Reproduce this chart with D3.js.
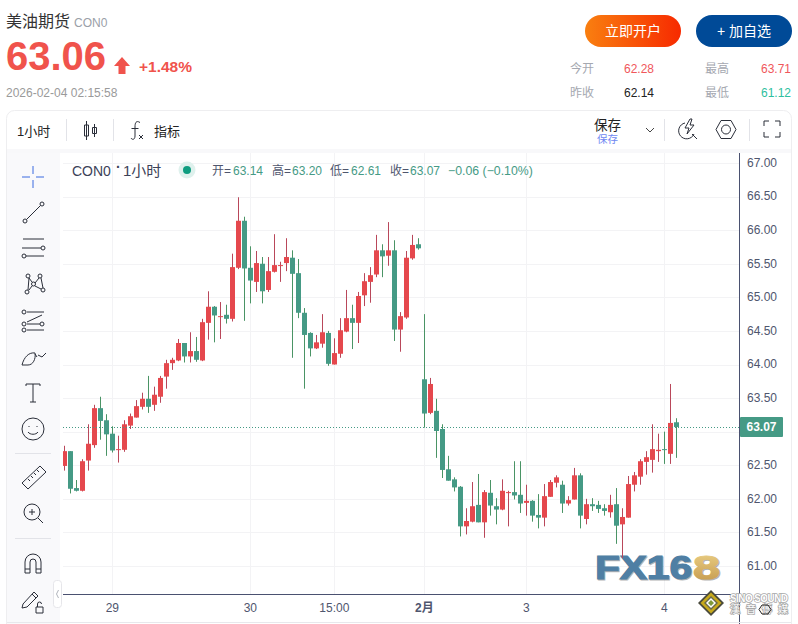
<!DOCTYPE html>
<html lang="zh">
<head>
<meta charset="utf-8">
<title>美油期货 CON0</title>
<script src="https://cdn.jsdelivr.net/npm/d3@7"></script>
<style>
  html, body { margin: 0; padding: 0; background: #fff; overflow: hidden; }
  svg { display: block; }
  text { font-family: "Liberation Sans", "Noto Sans CJK SC", sans-serif; }
</style>
</head>
<body>
<script>
// hourly candles
var opens = [62.49,62.71,62.16,62.12,62.57,62.80,63.35,63.17,62.97,62.73,62.73,63.09,63.21,63.37,63.49,63.40,63.52,63.82,64.02,64.06,64.32,64.12,64.20,64.06,64.62,64.86,64.71,64.74,64.68,65.44,66.14,65.44,65.23,65.50,65.11,65.38,65.47,65.51,65.59,65.36,64.77,64.47,64.24,64.31,64.47,64.00,64.16,64.49,64.69,64.62,65.03,65.23,65.34,65.70,65.62,65.70,64.52,64.70,65.58,65.79,63.78,63.28,63.31,63.04,62.44,62.29,62.18,61.59,61.66,61.91,61.65,62.09,61.89,61.84,62.09,62.10,62.06,61.94,61.97,61.76,61.72,62.03,62.24,62.21,61.93,61.99,62.35,61.70,61.92,61.91,61.86,61.80,61.92,61.62,61.72,62.21,62.33,62.55,62.58,62.71,62.74,62.67,63.14];
var highs = [62.79,62.71,62.28,62.59,63.11,63.40,63.52,63.26,63.08,62.94,63.17,63.27,63.47,63.58,63.83,63.67,63.83,64.07,64.10,64.38,64.32,64.48,64.41,64.68,65.09,64.87,64.93,64.89,65.65,66.49,66.20,65.76,65.69,65.60,65.60,65.94,65.53,65.88,65.70,65.57,64.84,64.48,64.44,64.75,64.50,64.39,64.69,65.11,64.89,65.08,65.36,65.45,65.93,65.79,66.12,65.85,64.78,65.69,65.93,65.88,64.75,63.80,63.49,63.11,62.64,62.32,62.19,61.86,62.25,62.37,62.13,62.28,62.01,62.29,62.12,62.56,62.56,62.21,61.98,62.07,62.22,62.28,62.35,62.27,62.04,62.46,62.38,62.00,62.01,61.97,61.92,62.06,62.16,61.86,62.34,62.40,62.59,62.71,63.11,62.97,63.00,63.71,63.20];
var lows = [62.42,62.08,62.11,62.11,62.42,62.76,62.88,62.64,62.69,62.54,62.70,63.04,63.21,63.33,63.28,63.31,63.43,63.64,63.92,64.05,64.03,64.03,64.04,64.05,64.37,64.33,64.38,64.61,64.64,65.42,64.65,64.91,65.08,64.91,65.08,65.37,65.23,65.39,64.10,64.69,63.64,64.12,64.23,64.25,63.98,64.00,64.10,64.48,64.23,64.32,64.87,64.92,65.30,65.30,65.47,64.35,64.19,64.68,65.56,65.71,63.06,63.26,62.61,62.31,62.27,62.11,61.44,61.47,61.65,61.65,61.42,61.75,61.62,61.83,61.59,61.99,61.79,61.75,61.66,61.56,61.59,62.03,62.17,61.79,61.90,61.99,61.56,61.62,61.82,61.79,61.75,61.72,61.33,61.12,61.72,62.11,62.21,62.36,62.39,62.55,62.52,62.52,62.61];
var closes = [62.71,62.15,62.12,62.56,62.82,63.35,63.16,62.96,62.72,62.74,63.11,63.23,63.38,63.49,63.37,63.55,63.80,64.02,64.07,64.32,64.12,64.20,64.07,64.63,64.86,64.73,64.72,64.68,65.45,66.14,65.43,65.25,65.51,65.09,65.39,65.48,65.48,65.60,65.35,64.77,64.44,64.24,64.33,64.48,64.01,64.17,64.51,64.69,64.62,65.02,65.24,65.33,65.70,65.61,65.70,64.52,64.72,65.59,65.78,65.73,63.27,63.71,63.01,62.43,62.27,62.17,61.59,61.67,61.89,61.65,62.10,61.90,61.84,62.12,62.10,62.05,61.93,61.97,61.75,61.72,62.04,62.25,62.32,61.93,61.98,62.35,61.75,61.92,61.89,61.85,61.82,61.91,61.60,61.73,62.22,62.35,62.56,62.62,62.74,62.73,62.73,63.13,63.07];

var priceTicks = [61,61.5,62,62.5,63,63.5,64,64.5,65,65.5,66,66.5,67];
// 63.00 sits behind the last price tag, so it has no label
var priceLabels = [61,61.5,62,62.5,63.5,64,64.5,65,65.5,66,66.5,67];
var timeTickIndex = [8,31,45,60,77,100];
var timeTickLabels = ["29","30","15:00","2月","3","4"];
var lastPrice = 63.07;

var statLabels = [["今开","最高"],["昨收","最低"]];
var statValues = [["62.28","63.71"],["62.14","61.12"]];
var statColors = [["#f0575b","#f0575b"],["#222","#2fbf9f"]];

var upColor = "#e5484d", upWick = "#b9475a";
var downColor = "#459a85", downWick = "#4a9465";
var axisColor = "#4a5170", axisText = "#4f566e", gridColor = "#f3f3f5", iconColor = "#2a2e39";

var svg = d3.select("body").append("svg")
  .attr("width", 798).attr("height", 624);

var defs = svg.append("defs");
var btnGrad = defs.append("linearGradient").attr("id", "btnGrad");
btnGrad.append("stop").attr("offset", "0%").attr("stop-color", "#f97f10");
btnGrad.append("stop").attr("offset", "100%").attr("stop-color", "#f72a00");
var goldGrad = defs.append("linearGradient").attr("id", "goldGrad")
  .attr("x1", 0).attr("x2", 0).attr("y1", 0).attr("y2", 1);
goldGrad.append("stop").attr("offset", "0%").attr("stop-color", "#eed48a");
goldGrad.append("stop").attr("offset", "100%").attr("stop-color", "#c2964a");

function label(parent, x, y, str, size, color, weight, anchor) {
  return parent.append("text")
    .attr("x", x).attr("y", y)
    .attr("font-size", size)
    .attr("fill", color)
    .attr("font-weight", weight || "normal")
    .attr("text-anchor", anchor || "start")
    .text(str);
}

//header
label(svg, 6, 27, "美油期货", 16, "#333");
label(svg, 74, 27, "CON0", 12, "#9aa0a8");
label(svg, 6, 70, "63.06", 40, "#f0534c", "bold");
svg.append("path").attr("d", "M122,57 L130,66 L125.5,66 L125.5,74 L118.5,74 L118.5,66 L114,66 Z").attr("fill", "#f0534c");
label(svg, 139, 72, "+1.48%", 15.5, "#f0534c", "bold");
label(svg, 6, 97, "2026-02-04 02:15:58", 12, "#9a9a9a");

svg.append("rect").attr("x", 585).attr("y", 15).attr("width", 96).attr("height", 32).attr("rx", 16).attr("fill", "url(#btnGrad)");
label(svg, 633, 36, "立即开户", 14, "#fff", "normal", "middle");
svg.append("rect").attr("x", 696).attr("y", 15).attr("width", 96).attr("height", 32).attr("rx", 16).attr("fill", "#004a97");
label(svg, 744, 36, "+ 加自选", 14, "#fff", "normal", "middle");

statLabels.forEach(function(row, r) {
  var y = 73 + r * 24;
  row.forEach(function(name, c) {
    label(svg, 570 + c * 135, y, name, 12, "#a5a8b0");
    label(svg, 654 + c * 137, y, statValues[r][c], 12, statColors[r][c], "normal", "end");
  });
});

//card, toolbar, side panel
svg.append("rect").attr("x", 6.5).attr("y", 110.5).attr("width", 785).attr("height", 540).attr("rx", 8)
  .attr("fill", "#fff").attr("stroke", "#eeeef0");
svg.append("rect").attr("x", 7).attr("y", 149).attr("width", 784).attr("height", 4).attr("fill", "#f8f8fa");
svg.append("rect").attr("x", 7).attr("y", 153).attr("width", 53).attr("height", 471).attr("fill", "#f9f9fb");

[66, 113, 664, 749].forEach(function(x) {
  svg.append("line").attr("x1", x + 0.5).attr("x2", x + 0.5).attr("y1", 119).attr("y2", 141).attr("stroke", "#e2e3e8");
});
label(svg, 17, 136, "1小时", 13, "#222");
label(svg, 154, 136, "指标", 13, "#222");
label(svg, 594, 130, "保存", 13.5, "#222");
label(svg, 597, 143, "保存", 10.5, "#6f88f2");

function icon(x, y, d, color) {
  return svg.append("path")
    .attr("transform", "translate(" + x + "," + y + ")")
    .attr("d", d)
    .attr("fill", "none")
    .attr("stroke", color || iconColor)
    .attr("stroke-width", 1);
}
function ring(cx, cy, r) {
  r = r || 2;
  return "M" + (cx - r) + "," + cy + "a" + r + "," + r + " 0 1,0 " + (2 * r) + ",0a" + r + "," + r + " 0 1,0 " + (-2 * r) + ",0";
}

icon(84, 120, "M2.5,1V20M0.5,5h4v11h-4ZM10.5,4V17M8.5,7.5h4v6h-4Z");
icon(130, 120, "M10,2.5C6,0 5,3 5,7V16C5,20 2,20 1,18M1.5,8.5H8.5M9,15L13,19M13,15L9,19");
icon(645, 127, "M1,1L5,5L9,1", "#444");
icon(679, 119, "M6,4A8,8 0 1,0 15,15M13,15L18,20M11,0L6,9H10L8,15L15,6H11L13,0Z");
icon(716, 120, "M5,0.5H15L20,9.5L15,18.5H5L0,9.5Z" + ring(10, 9.5, 4.5));
icon(764, 121, "M0,5V0H5M11,0H16V5M16,11V16H11M5,16H0V11");

//drawing tools on the left
icon(22, 166, "M11,0V8M11,14V22M0,11H8M14,11H22", "#3b6be0");
icon(22, 201, ring(3, 20) + ring(20, 3) + "M4.5,18.5L18.5,4.5");
icon(22, 238, ring(21, 10) + ring(2, 18) + "M1,1H22M0,10H19M4,18H22");
icon(24, 274, ring(3, 18) + ring(4, 2) + ring(16, 2) + ring(19, 16) + ring(9.5, 10) + "M4,16L5,4M5,16L8,12M5,4L8,8M11,9L15,4M11,12L17,15M17,4L19,14");
icon(22, 310, ring(2, 2) + ring(2, 14) + ring(2, 20) + ring(20, 14) + "M5,2H22M5,14H18M5,20H22M5,12L20,5");
icon(22, 349, "M0,16C2,8 7,3 13,4C14,10 11,16 6,16ZM13,5L15,8M16,6L20,8L24,4");
icon(26, 384, "M0,2V0H14V2M7,0V18M4,18H10");
icon(22, 418, "M22,11A11,11 0 1,1 0,11A11,11 0 1,1 22,11M7,8v1M15,8v1M6,14C8,17 14,17 16,14");
svg.append("line").attr("x1", 15).attr("x2", 51).attr("y1", 453.5).attr("y2", 453.5).attr("stroke", "#e2e3e8");
icon(22, 466, "M0,17L18,0L24,6L6,23ZM6,13L8,15M9,10L11,12M12,7L14,9M15,4L17,6");
icon(23, 504, "M17,8A8,8 0 1,1 1,8A8,8 0 1,1 17,8M15,14L20,19M9,5V11M6,8H12");
svg.append("line").attr("x1", 15).attr("x2", 51).attr("y1", 538.5).attr("y2", 538.5).attr("stroke", "#e2e3e8");
icon(25, 553, "M0,20V9A8,8 0 0,1 16,9V20H11V9A3,3 0 0,0 5,9V20ZM0,16H5M11,16H16");
icon(22, 589, "M1,15L12,3L16,7L5,18L0,19ZM10,5L14,9M14,18H21V24H14ZM15.5,18V15A2,2 0 0,1 19.5,15");
svg.append("rect").attr("x", 53.5).attr("y", 580.5).attr("width", 8).attr("height", 27).attr("rx", 3)
  .attr("fill", "#fff").attr("stroke", "#e6e6ea");
icon(56, 590, "M2.5,0L0.5,4L2.5,8", "#b0b3bb");

//scales
var x = d3.scaleLinear().domain([0, 100]).range([64.33, 664.33]);
var y = d3.scaleLinear().domain([61, 67]).range([566, 163]);
var plotLeft = 63, plotRight = 739, plotTop = 153, plotBottom = 594;

var grid = svg.append("g");
grid.selectAll("line.h").data(priceTicks).enter().append("line")
  .attr("x1", plotLeft).attr("x2", plotRight)
  .attr("y1", function(d) { return Math.round(y(d)) + 0.5; })
  .attr("y2", function(d) { return Math.round(y(d)) + 0.5; })
  .attr("stroke", gridColor);
grid.selectAll("line.v").data(timeTickIndex).enter().append("line")
  .attr("x1", function(d) { return Math.floor(x(d)) + 0.5; })
  .attr("x2", function(d) { return Math.floor(x(d)) + 0.5; })
  .attr("y1", plotTop).attr("y2", plotBottom)
  .attr("stroke", gridColor);

//watermark goes under the candles
function markText(str, px, width, fill) {
  label(svg, px + 1, 580, str, 34, "#444", "bold").attr("textLength", width).attr("lengthAdjust", "spacingAndGlyphs")
    .attr("stroke", "#444").attr("stroke-width", 1.2).attr("opacity", 0.4);
  label(svg, px, 579, str, 34, fill, "bold").attr("textLength", width).attr("lengthAdjust", "spacingAndGlyphs")
    .attr("stroke", fill).attr("stroke-width", 1.2);
}
markText("FX16", 595, 97, "#4f7fa4");
markText("8", 693, 27, "url(#goldGrad)");

//candles
var idx = d3.range(opens.length);
function isUp(i) { return closes[i] >= opens[i]; }

var candles = svg.append("g").selectAll("g").data(idx).enter().append("g");
candles.append("line")
  .attr("x1", function(i) { return Math.floor(x(i)) + 0.5; })
  .attr("x2", function(i) { return Math.floor(x(i)) + 0.5; })
  .attr("y1", function(i) { return y(highs[i]); })
  .attr("y2", function(i) { return y(lows[i]); })
  .attr("stroke", function(i) { return isUp(i) ? upWick : downWick; });
candles.append("rect")
  .attr("x", function(i) { return Math.max(Math.floor(x(i)) - 2, plotLeft); })
  .attr("width", function(i) { return i == 0 ? 4 : 5; })
  .attr("y", function(i) { return y(Math.max(opens[i], closes[i])); })
  .attr("height", function(i) { return Math.max(Math.abs(y(opens[i]) - y(closes[i])), 1); })
  .attr("fill", function(i) { return isUp(i) ? upColor : downColor; });

//last price line
svg.append("line")
  .attr("x1", plotLeft).attr("x2", plotRight)
  .attr("y1", Math.round(y(lastPrice)) + 0.5).attr("y2", Math.round(y(lastPrice)) + 0.5)
  .attr("stroke", "#459a85").attr("stroke-dasharray", "1,2");

//axes
var yAxis = d3.axisRight(y).tickValues(priceLabels).tickFormat(d3.format(".2f")).tickSize(0).tickPadding(8).offset(0);
var yG = svg.append("g").attr("transform", "translate(" + plotRight + ",0)").call(yAxis);
yG.select(".domain").remove();
yG.selectAll("text").attr("font-size", 12).attr("fill", axisText).style("font-family", '"Liberation Sans"');
svg.append("line").attr("x1", plotRight + 0.5).attr("x2", plotRight + 0.5).attr("y1", plotTop).attr("y2", 624).attr("stroke", axisColor);

var xAxis = d3.axisBottom(x).tickValues(timeTickIndex)
  .tickFormat(function(d, i) { return timeTickLabels[i]; })
  .tickSize(0).tickPadding(9).offset(0);
var xG = svg.append("g").attr("transform", "translate(0," + plotBottom + ")").call(xAxis);
xG.select(".domain").remove();
xG.selectAll("text").attr("font-size", 12).attr("fill", axisText)
  .attr("font-weight", function(d, i) { return timeTickLabels[i] == "2月" ? "bold" : "normal"; })
  .style("font-family", '"Liberation Sans", "Noto Sans CJK SC"');
svg.append("line").attr("x1", plotLeft).attr("x2", plotRight).attr("y1", plotBottom + 0.5).attr("y2", plotBottom + 0.5).attr("stroke", axisColor);
svg.append("line").attr("x1", 7).attr("x2", 791).attr("y1", 622.5).attr("y2", 622.5).attr("stroke", "#e8e8ec");

svg.append("rect").attr("x", plotRight + 1).attr("y", y(lastPrice) - 10).attr("width", 43).attr("height", 20).attr("rx", 1).attr("fill", "#459a85");
label(svg, plotRight + 22.5, y(lastPrice) + 4.5, d3.format(".2f")(lastPrice), 12, "#fff", "bold", "middle");

//legend on the chart
label(svg, 72, 176, "CON0", 14, "#3c4258");
label(svg, 116, 172, "·", 14, "#3c4258", "bold");
label(svg, 123, 176, "1小时", 15, "#3c4258");
svg.append("circle").attr("cx", 187).attr("cy", 170).attr("r", 8.5).attr("fill", "#dff1ed");
svg.append("circle").attr("cx", 187).attr("cy", 170).attr("r", 4).attr("fill", "#0f9d80");
var legendItems = [["开=", 212, "63.14", 233], ["高=", 272, "63.20", 292], ["低=", 330, "62.61", 351], ["收=", 390, "63.07", 410]];
legendItems.forEach(function(d) {
  label(svg, d[1], 175, d[0], 12, "#4f566e");
  label(svg, d[3], 175, d[2], 12, "#459a85");
});
label(svg, 448, 175, "−0.06 (−0.10%)", 12.3, "#459a85");

//sino sound badge
var badge = svg.append("g").attr("transform", "translate(711,603)");
[[13, "#4a4a3c"], [10.5, "#c7a91c"], [7, "#6a6a4a"], [5, "#fff"], [3, "#7f9a3a"]].forEach(function(d) {
  badge.append("path").attr("d", "M0," + -d[0] + "L" + d[0] + ",0L0," + d[0] + "L" + -d[0] + ",0Z").attr("fill", d[1]);
});
label(svg, 730, 602, "SINO SOUND", 10, "#fff", "bold")
  .attr("textLength", 58).attr("stroke", "#a8a8a8").attr("stroke-width", 1.5).attr("paint-order", "stroke");
label(svg, 730, 613, "漢 音 傳 媒", 10, "#fff", "normal")
  .attr("textLength", 58).attr("stroke", "#a8a8a8").attr("stroke-width", 1.5).attr("paint-order", "stroke");
icon(759, 605, "M3,0H9L12,4.5L9,9H3L0,4.5Z", "#222");
</script>
</body>
</html>
